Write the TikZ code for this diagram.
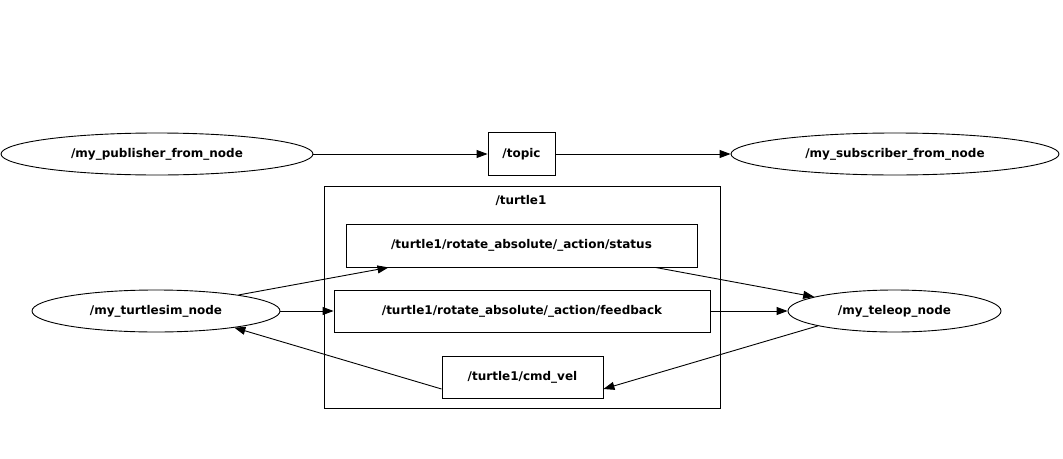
\documentclass[tikz,border=0pt]{standalone}
\usepackage{fontspec}
\setmainfont{DejaVu Sans}
\usetikzlibrary{shapes.geometric,arrows.meta}
\tikzset{
  rosnode/.style={draw, ellipse, line width=0.9pt, inner sep=0pt, minimum height=42pt},
  rostopic/.style={draw, rectangle, line width=0.9pt, inner sep=0pt, minimum height=43pt},
  edge/.style={line width=0.9pt, -{Triangle[length=11pt,width=8pt]}}
}
\begin{document}
\begin{tikzpicture}[x=1pt, y=-1pt, every node/.style={font=\fontsize{12}{14}\selectfont\bfseries}]
      \useasboundingbox (0,0) rectangle (1063,458);

      \node[draw, line width=0.9pt, minimum width=396pt, minimum height=222pt] (cluster) at (522,297) {};
      \node (clusterlbl) at (521,200) {/turtle1};

      \node[rosnode, minimum width=312pt] (pub) at (157,154) {/my\_publisher\_from\_node};
      \node[rostopic, minimum width=67pt] (topic) at (521.5,154) {/topic};
      \node[rosnode, minimum width=328pt] (sub) at (895,154) {/my\_subscriber\_from\_node};

      \node[rosnode, minimum width=248pt] (turtlesim) at (156,311) {/my\_turtlesim\_node};
      \node[rosnode, minimum width=213pt] (teleop) at (894.5,311) {/my\_teleop\_node};

      \node[rostopic, minimum width=351pt] (status) at (521.5,245.5) {/turtle1/rotate\_absolute/\_action/status};
      \node[rostopic, minimum width=376pt, minimum height=42pt] (feedback) at (522,311) {/turtle1/rotate\_absolute/\_action/feedback};
      \node[rostopic, minimum width=161pt, minimum height=42pt] (cmdvel) at (522.5,377) {/turtle1/cmd\_vel};

      \draw[edge] (pub) -- (topic);
      \draw[edge] (topic) -- (sub);
      \draw[edge] (turtlesim.11) -- ([xshift=-133pt]status.south);
      \draw[edge] (turtlesim) -- (feedback);
      \draw[edge] ([xshift=134pt]status.south) -- (teleop.170);
      \draw[edge] (feedback) -- (teleop);
      \draw[edge] (teleop.191) -- ([yshift=-12pt]cmdvel.east);
      \draw[edge] ([yshift=-12pt]cmdvel.west) -- (turtlesim.348);
    \end{tikzpicture}
\end{document}
